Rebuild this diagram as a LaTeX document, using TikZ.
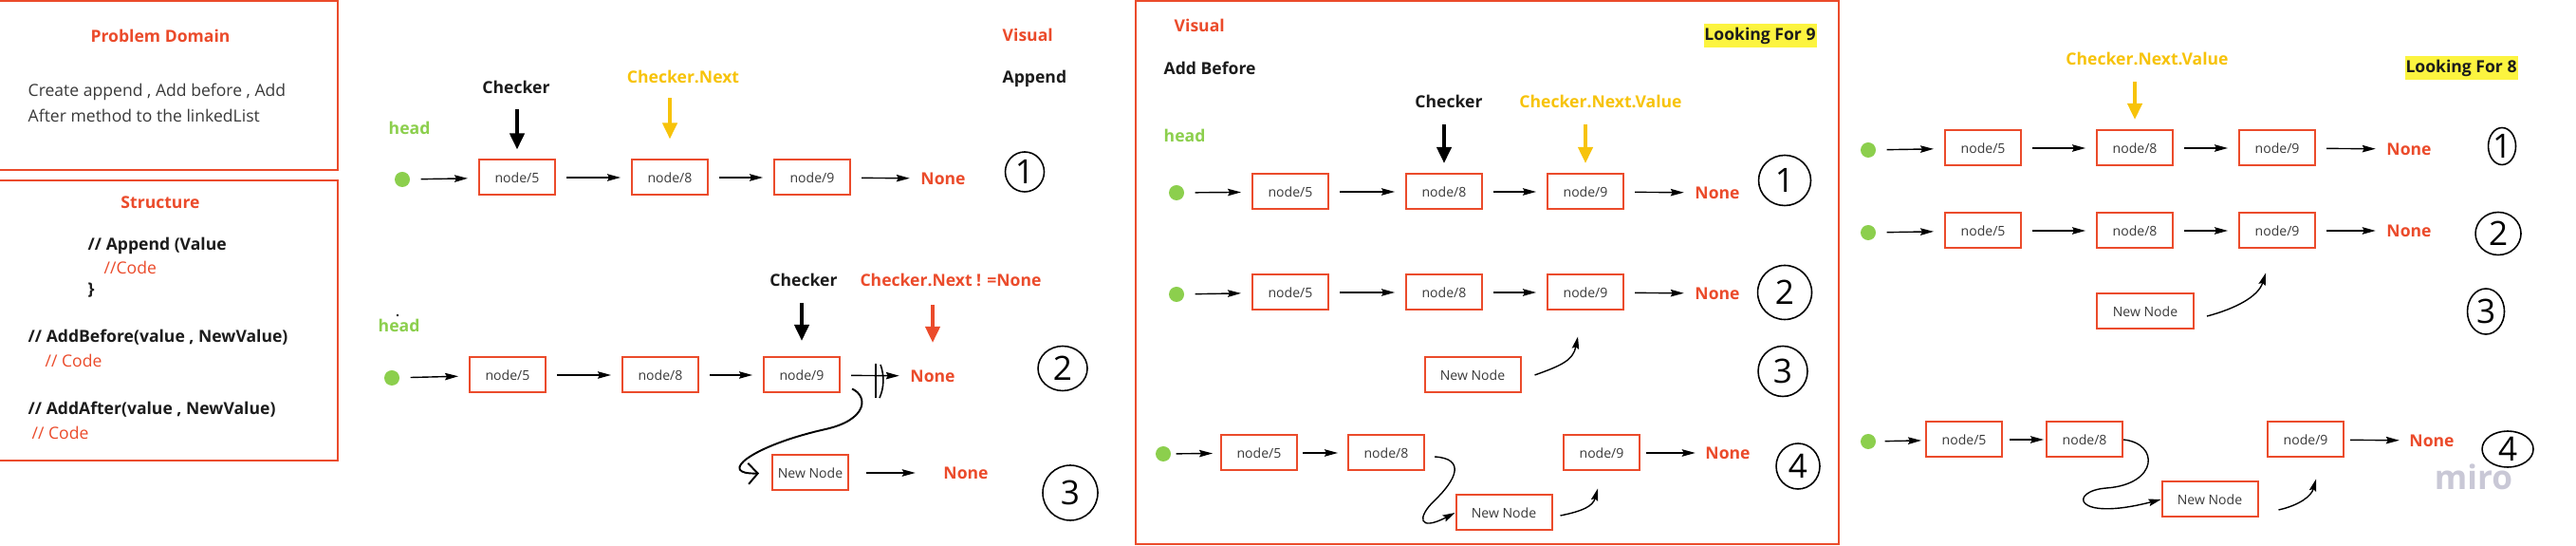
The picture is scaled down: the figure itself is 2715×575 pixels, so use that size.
\documentclass[tikz,border=0pt]{standalone}
\usepackage{fontspec}
\setmainfont{Open Sans}
\usetikzlibrary{arrows.meta,shapes.geometric}

\definecolor{miroRed}{HTML}{EB4B2B}
\definecolor{miroYellow}{HTML}{F7C30A}
\definecolor{miroGreen}{HTML}{8CCF4D}
\definecolor{hiYellow}{HTML}{FCF43F}
\definecolor{inkGray}{HTML}{3A3A3A}
\definecolor{inkBlack}{HTML}{1C1C1C}
\definecolor{miroLogo}{HTML}{C9C8D6}

\tikzset{
    listbox/.style={draw=miroRed, line width=0.57pt, minimum width=8mm, minimum height=3.7mm, inner sep=0pt, text=inkGray, font=\fontsize{4}{5}\selectfont},
    headdot/.style={circle, fill=miroGreen, minimum size=1.6mm, inner sep=0pt},
    link/.style={-{Stealth[length=1.4mm,width=0.75mm,inset=0.2mm]}, line width=0.4pt, shorten <=1.1mm, shorten >=1.1mm},
    pointer/.style={-{Triangle[length=1.7mm,width=1.5mm]}, line width=1.1pt, shorten <=1.6mm, shorten >=1mm},
    curvy/.style={-{Stealth[length=1.3mm,width=0.75mm,inset=0.2mm]}, line width=0.4pt},
    lbl/.style={font=\bfseries\fontsize{5}{6}\selectfont, inner sep=0pt, text=inkBlack},
    nonelbl/.style={lbl, text=miroRed},
    bodytext/.style={font=\fontsize{5}{6}\selectfont, inner sep=0pt, text=inkGray},
    codecmt/.style={bodytext, text=miroRed},
    hilite/.style={lbl, fill=hiYellow, minimum width=11.9mm, minimum height=2.5mm},
    numcirc/.style={draw, ellipse, line width=0.45pt, inner sep=0pt, font=\fontsize{10}{10}\selectfont},
    panel/.style={draw=miroRed, line width=0.57pt}
}

\begin{document}
\begin{tikzpicture}[x=0.1mm, y=-0.1mm]
    \fill[white] (0,0) rectangle (2715,575);
    \useasboundingbox (0,0) rectangle (2715,575);

    \draw[panel] (-5,1) rectangle (356,179);
    \draw[panel] (-5,190) rectangle (356,485);
    \draw[panel] (1197,1) rectangle (1938,573);

    \node[lbl, text=miroRed, anchor=base] (pdtitle) at (169,45) {Problem Domain};
    \node[bodytext, anchor=base west] (pdline1) at (29,102) {Create append , Add before , Add};
    \node[bodytext, anchor=base west] (pdline2) at (29,129) {After method to the linkedList};
    \node[lbl, text=miroRed, anchor=base] (sttitle) at (169,220) {Structure};
    \node[lbl, anchor=base west] (stappend) at (92,264) {// Append (Value};
    \node[codecmt, anchor=base west] (stcode1) at (109,289) {//Code};
    \node[lbl, anchor=base west] (stbrace) at (92,311) {\}};
    \node[lbl, anchor=base west] (stbefore) at (29,361) {// AddBefore(value , NewValue)};
    \node[codecmt, anchor=base west] (stcode2) at (47,387) {// Code};
    \node[lbl, anchor=base west] (stafter) at (29,437) {// AddAfter(value , NewValue)};
    \node[codecmt, anchor=base west] (stcode3) at (33,463) {// Code};

    \node[lbl, text=miroRed, anchor=west] (vis1) at (1056,37) {Visual};
    \node[lbl, anchor=west] (append) at (1056,83) {Append};
    \node[lbl, text=miroGreen, anchor=west] (head1) at (409,135) {head};
    \node[lbl] (chk1) at (544,92) {Checker};
    \node[lbl, text=miroYellow] (nxt1) at (720,81) {Checker.Next};
    \node[headdot] (a0) at (424,189) {};
    \node[listbox] (a5) at (545,187) {node/5};
    \node[listbox] (a8) at (706,187) {node/8};
    \node[listbox] (a9) at (856,187) {node/9};
    \node[nonelbl] (aNone) at (994,188) {None};
    \node[numcirc, minimum width=4.1mm, minimum height=4.2mm] (num1a) at (1080,181) {1};
    \draw[link] (a0) -- (a5);
    \draw[link] (a5) -- (a8);
    \draw[link] (a8) -- (a9);
    \draw[link] (a9) -- (aNone);
    \draw[pointer] (chk1.south -| a5.north) -- (a5.north);
    \draw[pointer, miroYellow, shorten <=1.5mm, shorten >=2.1mm] (nxt1.south -| a8.north) -- (a8.north);

    \fill[inkBlack] (419,332) circle (1.3);
    \node[lbl, text=miroGreen, anchor=west] (head2) at (398,343) {head};
    \node[lbl] (chk2) at (847,295) {Checker};
    \node[lbl, text=miroRed] (cond2) at (1002,295) {Checker.Next ! =None};
    \node[headdot] (b0) at (413,398) {};
    \node[listbox] (b5) at (535,395) {node/5};
    \node[listbox] (b8) at (696,395) {node/8};
    \node[listbox] (b9) at (845,395) {node/9};
    \node[nonelbl] (bNone) at (983,396) {None};
    \node[listbox] (bNew) at (854,498) {New Node};
    \node[nonelbl] (bNone2) at (1018,498) {None};
    \node[numcirc, minimum width=5.2mm, minimum height=4.7mm] (num2a) at (1120,388) {2};
    \node[numcirc, minimum width=5.8mm, minimum height=5.8mm] (num3a) at (1128,519) {3};
    \draw[link] (b0) -- (b5);
    \draw[link] (b5) -- (b8);
    \draw[link] (b8) -- (b9);
    \draw[link] (b9) -- (bNone);
    \draw[link, shorten <=1.8mm, shorten >=2.9mm] (bNew) -- (bNone2);
    \draw[line width=0.45pt] (923,383) -- (923,419);
    \draw[line width=0.45pt] (928,384) .. controls (932,395) and (932,408) .. (927,419);
    \draw[pointer, shorten <=1.65mm, shorten >=1.65mm] (chk2.south -| b9.north) -- (b9.north);
    \draw[pointer, miroRed, shorten <=1.85mm, shorten >=2.8mm] (cond2.south -| bNone.north) -- (bNone.north);
    \draw[-{Straight Barb[length=1mm,width=2.2mm]}, line width=0.55pt, shorten >=1.3mm] ([shift={(12,-5)}]b9.south east) .. controls (915,417) and (915,442) .. (870,452) .. controls (790,470) and (755,500) .. (bNew.west);

    \node[lbl, text=miroRed, anchor=west] (vis2) at (1237,27) {Visual};
    \node[hilite] (look9) at (1855,38) {Looking For 9};
    \node[lbl, anchor=west] (addb) at (1226,72) {Add Before};
    \node[lbl] (chk3) at (1527,107) {Checker};
    \node[lbl, text=miroYellow] (nxt3) at (1687,107) {Checker.Next.Value};
    \node[lbl, text=miroGreen, anchor=west] (head3) at (1226,143) {head};
    \node[headdot] (c0) at (1240,203) {};
    \node[listbox] (c5) at (1360,202) {node/5};
    \node[listbox] (c8) at (1522,202) {node/8};
    \node[listbox] (c9) at (1671,202) {node/9};
    \node[nonelbl] (cNone) at (1810,203) {None};
    \node[numcirc, minimum width=5.5mm, minimum height=5.3mm] (num1b) at (1881,190) {1};
    \draw[link] (c0) -- (c5);
    \draw[link] (c5) -- (c8);
    \draw[link] (c8) -- (c9);
    \draw[link] (c9) -- (cNone);
    \draw[pointer, shorten <=1.65mm, shorten >=1.05mm] (chk3.south -| c8.north) -- (c8.north);
    \draw[pointer, miroYellow, shorten <=1.65mm, shorten >=1.05mm] (nxt3.south -| c9.north) -- (c9.north);

    \node[headdot] (d0) at (1240,310) {};
    \node[listbox] (d5) at (1360,308) {node/5};
    \node[listbox] (d8) at (1522,308) {node/8};
    \node[listbox] (d9) at (1671,308) {node/9};
    \node[nonelbl] (dNone) at (1810,309) {None};
    \node[numcirc, minimum width=5.7mm, minimum height=5.7mm] (num2b) at (1881,308) {2};
    \draw[link] (d0) -- (d5);
    \draw[link] (d5) -- (d8);
    \draw[link] (d8) -- (d9);
    \draw[link] (d9) -- (dNone);
    \node[listbox, minimum width=10.1mm] (dNew) at (1552,395) {New Node};
    \node[numcirc, minimum width=5.2mm, minimum height=5.3mm] (num3b) at (1879,391) {3};
    \draw[curvy] ([xshift=1.4mm]dNew.east) .. controls +(28,-10) and +(-5,25) .. ([shift={(-8,27)}]d9.south);

    \node[headdot] (e0) at (1226,478) {};
    \node[listbox] (e5) at (1327,477) {node/5};
    \node[listbox] (e8) at (1461,477) {node/8};
    \node[listbox, minimum width=10.1mm] (eNew) at (1585,540) {New Node};
    \node[listbox] (e9) at (1688,477) {node/9};
    \node[nonelbl] (eNone) at (1821,477) {None};
    \node[numcirc, minimum width=4.6mm, minimum height=4.8mm] (num4b) at (1895,491) {4};
    \draw[link, shorten <=0.5mm, shorten >=0.8mm] (e0) -- (e5);
    \draw[link, shorten <=0.5mm, shorten >=1mm] (e5) -- (e8);
    \draw[link, shorten <=0.6mm, shorten >=1mm] (e9) -- (eNone);
    \draw[curvy] ([shift={(10,4)}]e8.east) .. controls (1545,483) and (1535,505) .. (1512,527) .. controls (1493,545) and (1495,560) .. (eNew.west);
    \draw[curvy] ([shift={(8,3)}]eNew.east) .. controls +(25,-5) and +(-5,18) .. ([shift={(-4,18)}]e9.south);

    \node[lbl, text=miroYellow] (nxt4) at (2263,62) {Checker.Next.Value};
    \node[hilite] (look8) at (2594,72) {Looking For 8};
    \node[headdot] (f0) at (1969,158) {};
    \node[listbox] (f5) at (2090,156) {node/5};
    \node[listbox] (f8) at (2250,156) {node/8};
    \node[listbox] (f9) at (2400,156) {node/9};
    \node[nonelbl] (fNone) at (2539,157) {None};
    \node[numcirc, minimum width=2.9mm, minimum height=3.9mm] (num1c) at (2637,154) {1};
    \draw[link] (f0) -- (f5);
    \draw[link] (f5) -- (f8);
    \draw[link] (f8) -- (f9);
    \draw[link] (f9) -- (fNone);
    \draw[pointer, miroYellow, shorten <=1.65mm, shorten >=1.05mm] (nxt4.south -| f8.north) -- (f8.north);

    \node[headdot] (g0) at (1969,245) {};
    \node[listbox] (g5) at (2090,243) {node/5};
    \node[listbox] (g8) at (2250,243) {node/8};
    \node[listbox] (g9) at (2400,243) {node/9};
    \node[nonelbl] (gNone) at (2539,243) {None};
    \node[numcirc, minimum width=4.8mm, minimum height=4.5mm] (num2c) at (2633,246) {2};
    \draw[link] (g0) -- (g5);
    \draw[link] (g5) -- (g8);
    \draw[link] (g8) -- (g9);
    \draw[link] (g9) -- (gNone);
    \node[listbox, minimum width=10.2mm] (gNew) at (2261,328) {New Node};
    \node[numcirc, minimum width=3.9mm, minimum height=4.8mm] (num3c) at (2620,328) {3};
    \draw[curvy] ([shift={(13,5)}]gNew.east) .. controls +(30,-8) and +(-8,25) .. ([shift={(-12,25)}]g9.south);

    \node[font=\bfseries\fontsize{10}{10}\selectfont, text=miroLogo, inner sep=0pt] (logo) at (2607,502) {miro};
    \node[headdot] (h0) at (1969,465) {};
    \node[listbox] (h5) at (2070,463) {node/5};
    \node[listbox] (h8) at (2197,463) {node/8};
    \node[listbox, minimum width=10.1mm] (hNew) at (2329,526) {New Node};
    \node[listbox] (h9) at (2430,463) {node/9};
    \node[nonelbl] (hNone) at (2563,464) {None};
    \node[numcirc, minimum width=5.4mm, minimum height=3.8mm] (num4c) at (2643,473) {4};
    \draw[link, shorten <=0.9mm, shorten >=0.4mm] (h0) -- (h5);
    \draw[link, shorten <=0.7mm, shorten >=0.2mm] (h5) -- (h8);
    \draw[link, shorten <=0.6mm, shorten >=1mm] (h9) -- (hNone);
    \draw[curvy] (h8.east) .. controls (2276,467) and (2275,510) .. (2220,514) .. controls (2180,517) and (2185,550) .. (hNew.west);
    \draw[curvy] ([shift={(21,11)}]hNew.east) .. controls +(22,-5) and +(-5,18) .. ([shift={(11,22)}]h9.south);
\end{tikzpicture}
\end{document}
